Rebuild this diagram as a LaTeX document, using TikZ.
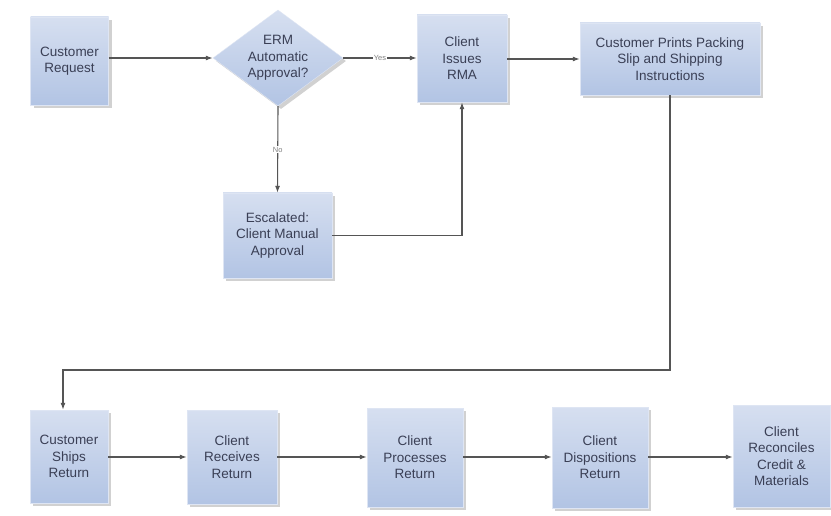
\documentclass[tikz,border=0pt]{standalone}
\usepackage{fontspec}
\setmainfont{Liberation Sans}
\usetikzlibrary{shapes.geometric,arrows.meta,shadows}
\definecolor{boxtop}{HTML}{D6DFF0}
\definecolor{boxbot}{HTML}{B2C4E4}
\definecolor{txt}{HTML}{3A3F55}
\definecolor{ln}{HTML}{555555}
\begin{document}
\begin{tikzpicture}[x=1pt,y=-1pt,
  stepbox/.style={rectangle, inner sep=0pt, top color=boxtop, bottom color=boxbot,
    draw=boxtop!80!white, line width=0.4pt,
    drop shadow={shadow xshift=3pt, shadow yshift=-3pt, fill=black, opacity=0.18},
    text=txt, align=center, font=\fontsize{13.5}{16.5}\selectfont},
  decide/.style={diamond, inner sep=0pt, aspect=1.354, top color=boxtop, bottom color=boxbot,
    draw=boxtop!80!white, line width=0.4pt,
    drop shadow={shadow xshift=3pt, shadow yshift=-3pt, fill=black, opacity=0.18}},
  dtext/.style={text=txt, align=center, font=\fontsize{13.5}{16.5}\selectfont},
  arr/.style={draw=ln, line width=1.1pt, -{Latex[length=7pt,width=5pt]}},
  lbl/.style={fill=white, inner sep=1pt, text=gray, font=\fontsize{7.5}{8}\selectfont}]
\useasboundingbox[fill=white] (0,0) rectangle (831,516);

\node[stepbox, minimum width=78, minimum height=88] (req) at (69.5,61) {Customer\\Request};
\node[decide, minimum width=130, minimum height=96] (erm) at (278,58) {};
\node[dtext] (ermt) at (278,58) {ERM\\Automatic\\Approval?};
\node[stepbox, minimum width=90, minimum height=87] (rma) at (462,58.5) {Client\\Issues\\RMA};
\node[stepbox, minimum width=180, minimum height=72] (prt) at (670,59) {Customer Prints Packing\\Slip and Shipping\\Instructions};
\node[stepbox, minimum width=109, minimum height=85] (esc) at (277.5,235.5) {Escalated:\\Client Manual\\Approval};

\node[stepbox, minimum width=78, minimum height=93] (shp) at (69,456.5) {Customer\\Ships\\Return};
\node[stepbox, minimum width=90, minimum height=94] (rcv) at (232,457) {Client\\Receives\\Return};
\node[stepbox, minimum width=96, minimum height=99] (pro) at (415,457.5) {Client\\Processes\\Return};
\node[stepbox, minimum width=96, minimum height=101] (dis) at (600,457.5) {Client\\Dispositions\\Return};
\node[stepbox, minimum width=97, minimum height=102] (rec) at (781.5,456) {Client\\Reconciles\\Credit \&\\Materials};

\coordinate (k1) at (670,370);
\coordinate (k2) at (63,370);

\draw[arr] (req.east |- erm.west) -- (erm.west);
\draw[arr] (erm.east) -- node[lbl] {Yes} (rma.west |- erm.east);
\draw[arr] (erm.south) -- node[lbl, pos=0.5] {No} (esc.north);
\draw[arr] (esc.east) -| (rma.south);
\draw[arr] (rma.east |- prt.west) -- (prt.west);
\draw[arr] (prt.south) -- (k1) -- (k2) -- (k2 |- shp.north);
\draw[arr] (shp.east |- rcv.west) -- (rcv.west);
\draw[arr] (rcv.east) -- (pro.west |- rcv.east);
\draw[arr] (pro.east |- rcv.east) -- (dis.west |- rcv.east);
\draw[arr] (dis.east |- rcv.east) -- (rec.west |- rcv.east);
\end{tikzpicture}
\end{document}
